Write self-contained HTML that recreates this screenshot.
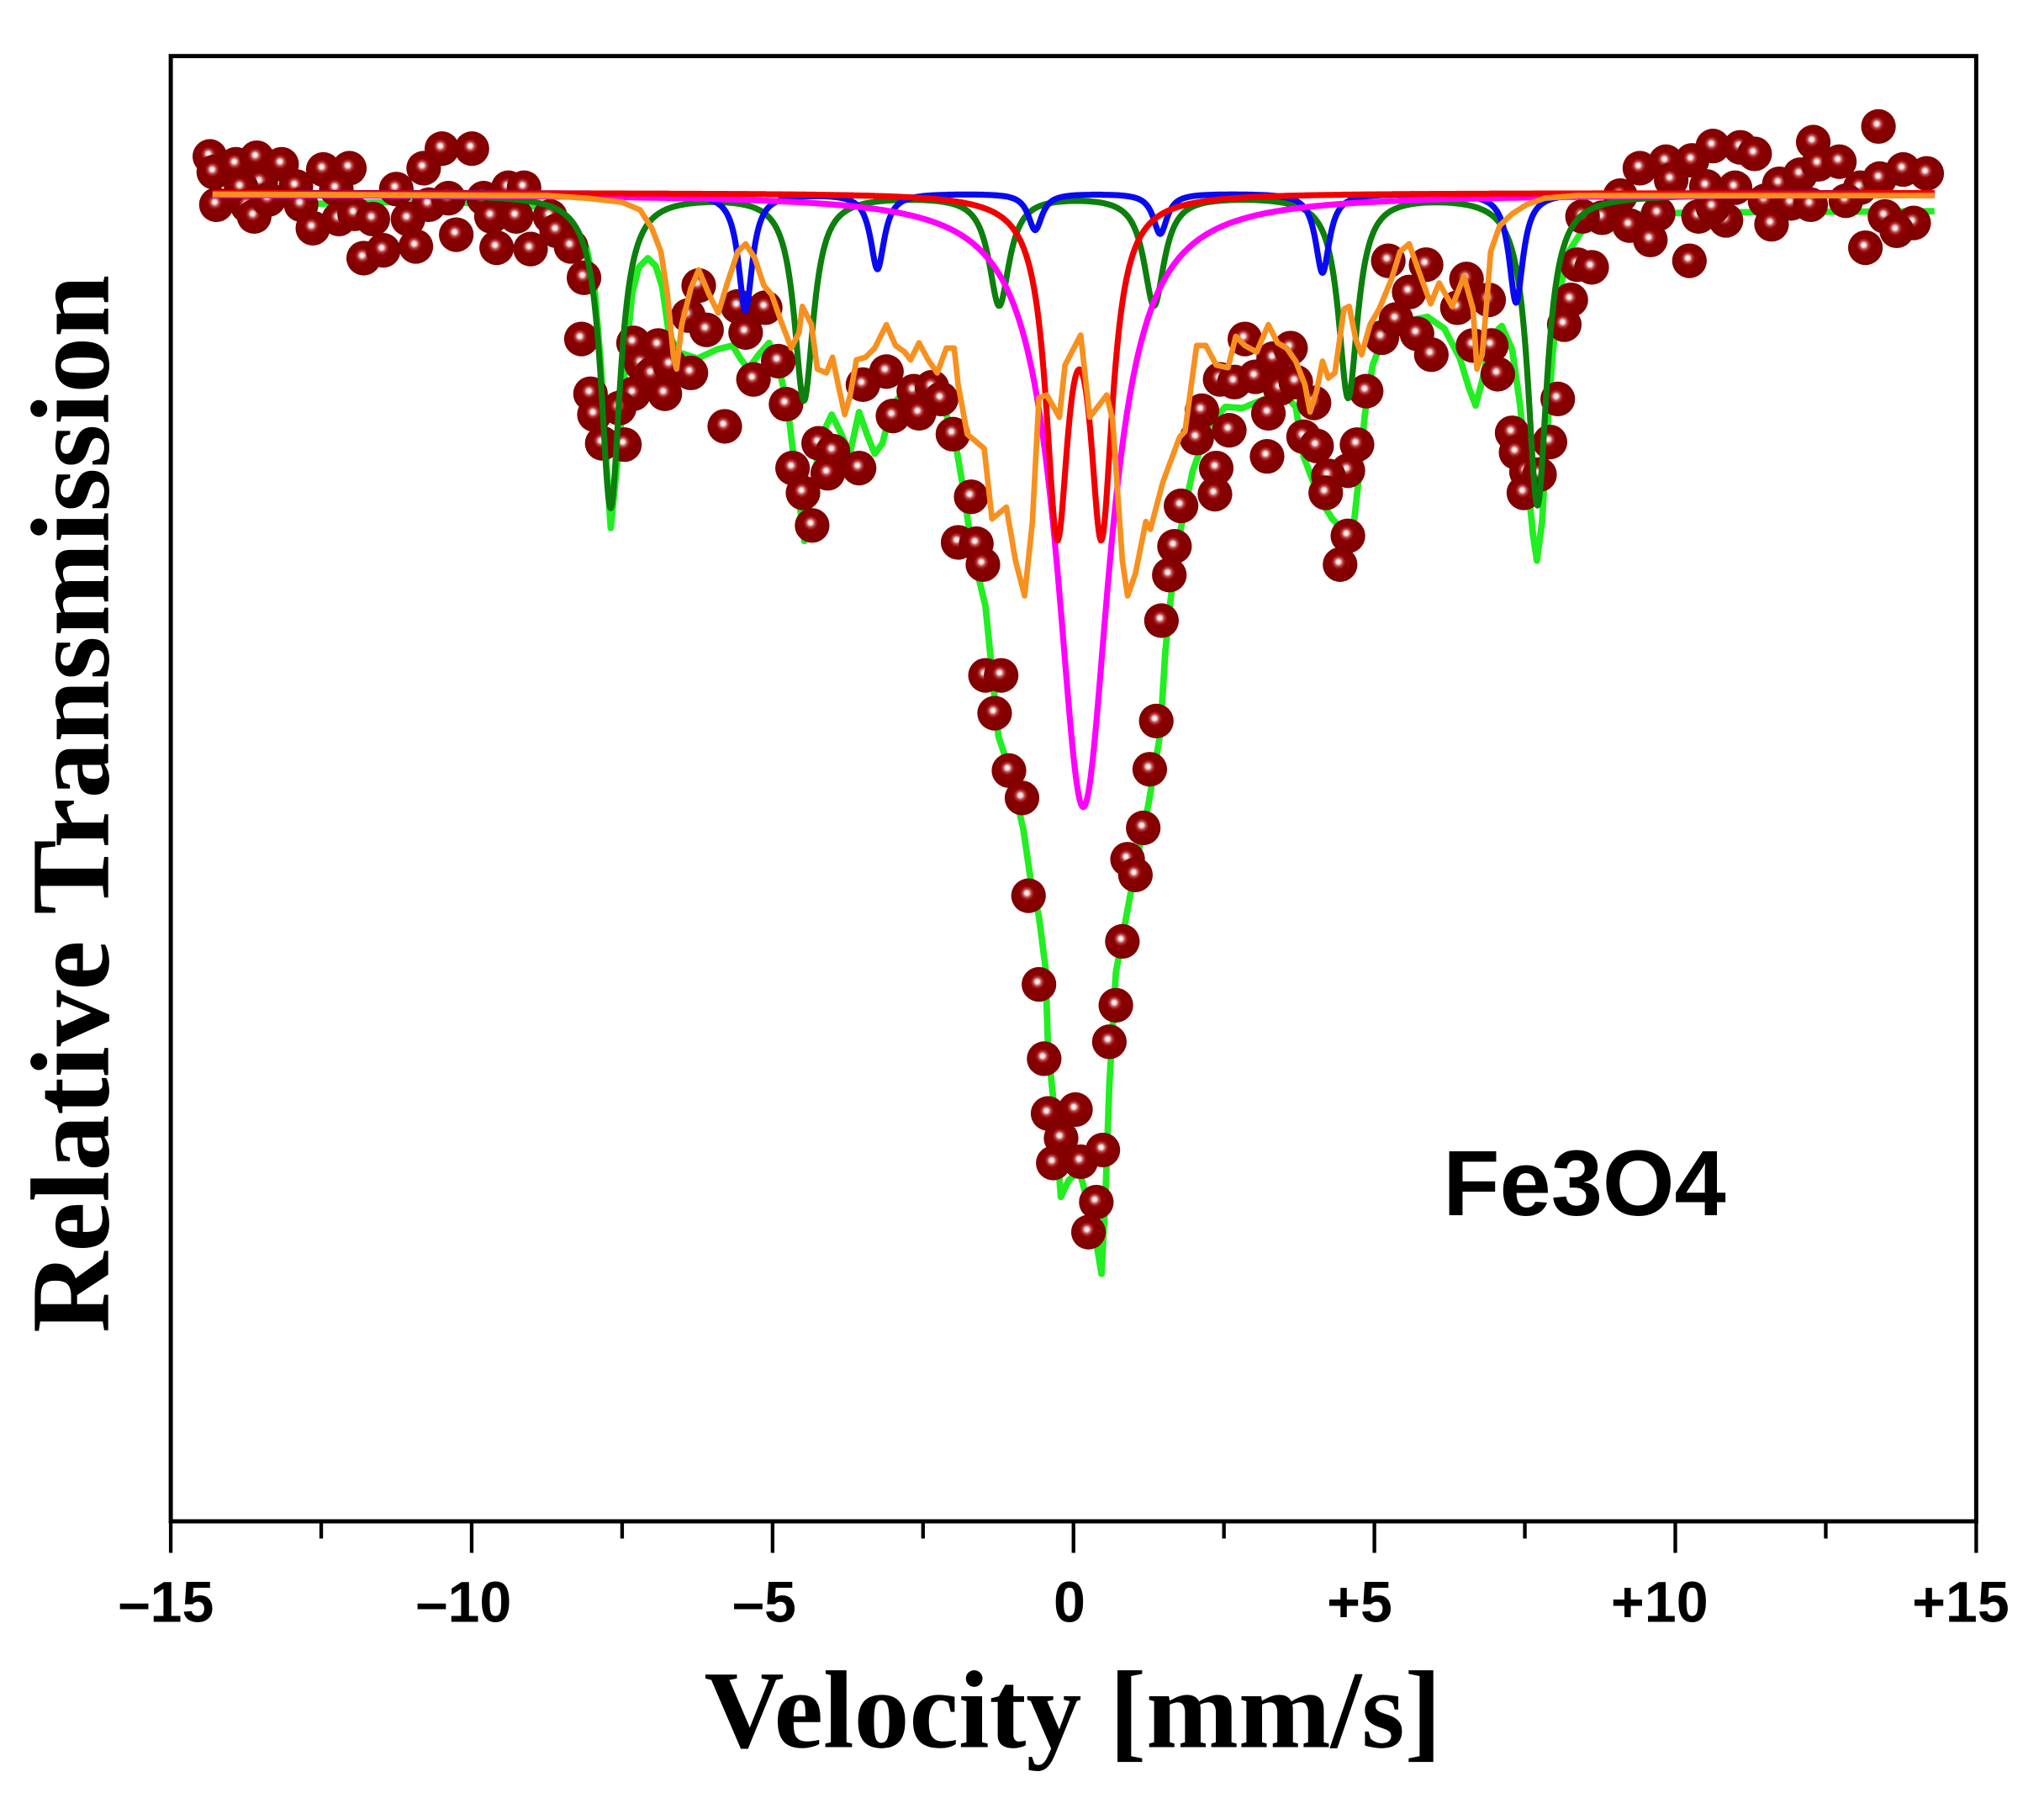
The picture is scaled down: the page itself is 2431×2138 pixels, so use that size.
<!DOCTYPE html>
<html><head><meta charset="utf-8"><style>
html,body{margin:0;padding:0;background:#fff;}
svg{display:block;}
</style></head><body>
<svg id="s" width="2431" height="2138" viewBox="0 0 1568 1379" preserveAspectRatio="none" xmlns="http://www.w3.org/2000/svg">
<defs>
<radialGradient id="sg" cx="0.47" cy="0.44" r="0.55" fx="0.45" fy="0.42">
<stop offset="0" stop-color="#ffffff"/>
<stop offset="0.1" stop-color="#f6e4e4"/>
<stop offset="0.24" stop-color="#b83a3a"/>
<stop offset="0.38" stop-color="#8b0000"/>
<stop offset="1" stop-color="#7e0000"/>
</radialGradient>
</defs>
<rect x="0" y="0" width="1568" height="1379" fill="#fff"/>

<!-- light green total fit -->
<polyline fill="none" stroke="#22ee22" stroke-width="5" stroke-linejoin="round" points="163,158 300,155 400,156 425,162 440,172 450,190 456,220 461,280 465,350 468.5,405 472,370 476,330 480,275 485,225 490,205 497,198 503,204 508,220 513,255 520,270 535,275 550,268 562,265 568,275 574,283 582,272 590,263 597,280 604,310 610,360 617,415 623,375 630,335 638,318 645,332 652,348 659,316 665,333 671,348 677,340 684,312 695,298 712,300 725,315 733,340 739,375 744,410 750,440 756,465 760,505 766,565 775,592 785,636 791,677 797,703 802,742 804,804 808,843 813.8,918 820,905 828,898 838,935 845,977 848,918 851,832 856,746 864,703 872,660 881,617 890,563 894,499 898,460 903,420 910,385 915,361 919,350 928,325 940,312 953,313 970,306 985,302 994,312 1000,350 1006,366 1014,385 1022,398 1028,404 1034,410 1039,398 1043,360 1047,318 1053,280 1060,262 1072,250 1085,245 1095,243 1108,252 1120,275 1127,298 1132,311 1137,292 1144,258 1152,250 1160,268 1166,310 1171,360 1176,410 1179,430 1183,400 1187,330 1191,272 1197,220 1204,192 1213,178 1230,168 1260,164 1300,163 1484,162"/>

<!-- data spheres -->
<g fill="url(#sg)">
<circle cx="161" cy="120" r="13.3"/><circle cx="164" cy="132" r="13.3"/><circle cx="181" cy="126" r="13.3"/><circle cx="197" cy="121" r="13.3"/><circle cx="216" cy="126" r="13.3"/><circle cx="200" cy="140" r="13.3"/><circle cx="185" cy="144" r="13.3"/><circle cx="166" cy="157" r="13.3"/><circle cx="190" cy="158" r="13.3"/><circle cx="195" cy="166" r="13.3"/><circle cx="206" cy="153" r="13.3"/><circle cx="227" cy="143" r="13.3"/><circle cx="231" cy="157" r="13.3"/><circle cx="240" cy="175" r="13.3"/><circle cx="248" cy="130" r="13.3"/><circle cx="268" cy="129" r="13.3"/><circle cx="258" cy="145" r="13.3"/><circle cx="260" cy="168" r="13.3"/><circle cx="272" cy="164" r="13.3"/><circle cx="286" cy="168" r="13.3"/><circle cx="279" cy="198" r="13.3"/><circle cx="294" cy="192" r="13.3"/><circle cx="304" cy="145" r="13.3"/><circle cx="313" cy="168" r="13.3"/><circle cx="319" cy="189" r="13.3"/><circle cx="325" cy="129" r="13.3"/><circle cx="339" cy="114" r="13.3"/><circle cx="362" cy="114" r="13.3"/><circle cx="329" cy="157" r="13.3"/><circle cx="344" cy="152" r="13.3"/><circle cx="350" cy="180" r="13.3"/><circle cx="371" cy="152" r="13.3"/><circle cx="377" cy="166" r="13.3"/><circle cx="381" cy="190" r="13.3"/><circle cx="390" cy="144" r="13.3"/><circle cx="402" cy="144" r="13.3"/><circle cx="396" cy="166" r="13.3"/><circle cx="407" cy="191" r="13.3"/><circle cx="422" cy="166" r="13.3"/><circle cx="427" cy="177" r="13.3"/><circle cx="438" cy="189" r="13.3"/><circle cx="448" cy="213" r="13.3"/><circle cx="446" cy="260" r="13.3"/><circle cx="453" cy="302" r="13.3"/><circle cx="456" cy="318" r="13.3"/><circle cx="462" cy="340" r="13.3"/><circle cx="486" cy="263" r="13.3"/><circle cx="486" cy="302" r="13.3"/><circle cx="475" cy="313" r="13.3"/>
<circle cx="505" cy="265" r="13.3"/><circle cx="492" cy="279" r="13.3"/><circle cx="500" cy="287" r="13.3"/><circle cx="510" cy="302" r="13.3"/><circle cx="479" cy="341" r="13.3"/><circle cx="514" cy="280" r="13.3"/><circle cx="530" cy="286" r="13.3"/><circle cx="536" cy="219" r="13.3"/><circle cx="528" cy="242" r="13.3"/><circle cx="542" cy="253" r="13.3"/><circle cx="566" cy="235" r="13.3"/><circle cx="587" cy="236" r="13.3"/><circle cx="572" cy="255" r="13.3"/><circle cx="556" cy="327" r="13.3"/><circle cx="578" cy="291" r="13.3"/><circle cx="597" cy="277" r="13.3"/><circle cx="603" cy="310" r="13.3"/><circle cx="628" cy="340" r="13.3"/><circle cx="639" cy="346" r="13.3"/><circle cx="608" cy="359" r="13.3"/><circle cx="616" cy="378" r="13.3"/><circle cx="659" cy="359" r="13.3"/><circle cx="635" cy="363" r="13.3"/><circle cx="623" cy="403" r="13.3"/><circle cx="680" cy="285" r="13.3"/><circle cx="662" cy="295" r="13.3"/><circle cx="685" cy="319" r="13.3"/><circle cx="701" cy="300" r="13.3"/><circle cx="715" cy="297" r="13.3"/><circle cx="722" cy="306" r="13.3"/><circle cx="705" cy="317" r="13.3"/><circle cx="731" cy="333" r="13.3"/><circle cx="745" cy="381" r="13.3"/><circle cx="735" cy="416" r="13.3"/><circle cx="749" cy="417" r="13.3"/>
<circle cx="754" cy="433" r="13.3"/><circle cx="756" cy="518" r="13.3"/><circle cx="768" cy="518" r="13.3"/><circle cx="763" cy="547" r="13.3"/><circle cx="774" cy="591" r="13.3"/><circle cx="784" cy="612" r="13.3"/><circle cx="789" cy="687" r="13.3"/><circle cx="901" cy="419" r="13.3"/><circle cx="897" cy="441" r="13.3"/><circle cx="891" cy="476" r="13.3"/><circle cx="887" cy="553" r="13.3"/><circle cx="882" cy="590" r="13.3"/><circle cx="877" cy="635" r="13.3"/><circle cx="865" cy="659" r="13.3"/><circle cx="871" cy="671" r="13.3"/><circle cx="797" cy="755" r="13.3"/><circle cx="801" cy="812" r="13.3"/><circle cx="804" cy="854" r="13.3"/><circle cx="825" cy="851" r="13.3"/><circle cx="814" cy="873" r="13.3"/><circle cx="808" cy="892" r="13.3"/><circle cx="829" cy="891" r="13.3"/><circle cx="846" cy="882" r="13.3"/><circle cx="841" cy="922" r="13.3"/><circle cx="835" cy="945" r="13.3"/><circle cx="861" cy="722" r="13.3"/><circle cx="856" cy="771" r="13.3"/><circle cx="851" cy="799" r="13.3"/>
<circle cx="955" cy="260" r="13.3"/><circle cx="936" cy="291" r="13.3"/><circle cx="947" cy="293" r="13.3"/><circle cx="963" cy="289" r="13.3"/><circle cx="977" cy="275" r="13.3"/><circle cx="990" cy="267" r="13.3"/><circle cx="982" cy="298" r="13.3"/><circle cx="994" cy="293" r="13.3"/><circle cx="973" cy="317" r="13.3"/><circle cx="1008" cy="309" r="13.3"/><circle cx="922" cy="315" r="13.3"/><circle cx="918" cy="336" r="13.3"/><circle cx="943" cy="330" r="13.3"/><circle cx="933" cy="359" r="13.3"/><circle cx="932" cy="379" r="13.3"/><circle cx="906" cy="388" r="13.3"/><circle cx="972" cy="350" r="13.3"/><circle cx="1000" cy="335" r="13.3"/><circle cx="1010" cy="342" r="13.3"/><circle cx="1041" cy="341" r="13.3"/><circle cx="1034" cy="361" r="13.3"/><circle cx="1019" cy="365" r="13.3"/><circle cx="1017" cy="378" r="13.3"/><circle cx="1034" cy="411" r="13.3"/><circle cx="1028" cy="433" r="13.3"/><circle cx="1048" cy="300" r="13.3"/><circle cx="1060" cy="259" r="13.3"/><circle cx="1071" cy="245" r="13.3"/><circle cx="1065" cy="200" r="13.3"/><circle cx="1094" cy="203" r="13.3"/><circle cx="1081" cy="224" r="13.3"/><circle cx="1087" cy="256" r="13.3"/><circle cx="1098" cy="272" r="13.3"/><circle cx="1118" cy="236" r="13.3"/><circle cx="1125" cy="214" r="13.3"/><circle cx="1142" cy="230" r="13.3"/><circle cx="1130" cy="265" r="13.3"/><circle cx="1144" cy="265" r="13.3"/><circle cx="1149" cy="287" r="13.3"/><circle cx="1160" cy="332" r="13.3"/><circle cx="1163" cy="347" r="13.3"/><circle cx="1171" cy="362" r="13.3"/><circle cx="1169" cy="378" r="13.3"/>
<circle cx="1441" cy="97" r="13.3"/><circle cx="1391" cy="109" r="13.3"/><circle cx="1314" cy="112" r="13.3"/><circle cx="1335" cy="113" r="13.3"/><circle cx="1346" cy="118" r="13.3"/><circle cx="1258" cy="129" r="13.3"/><circle cx="1278" cy="124" r="13.3"/><circle cx="1298" cy="123" r="13.3"/><circle cx="1282" cy="138" r="13.3"/><circle cx="1309" cy="143" r="13.3"/><circle cx="1331" cy="144" r="13.3"/><circle cx="1365" cy="141" r="13.3"/><circle cx="1381" cy="134" r="13.3"/><circle cx="1395" cy="126" r="13.3"/><circle cx="1411" cy="124" r="13.3"/><circle cx="1427" cy="144" r="13.3"/><circle cx="1442" cy="137" r="13.3"/><circle cx="1460" cy="130" r="13.3"/><circle cx="1478" cy="133" r="13.3"/><circle cx="1446" cy="166" r="13.3"/><circle cx="1468" cy="171" r="13.3"/><circle cx="1431" cy="190" r="13.3"/><circle cx="1455" cy="177" r="13.3"/><circle cx="1243" cy="150" r="13.3"/><circle cx="1229" cy="167" r="13.3"/><circle cx="1214" cy="166" r="13.3"/><circle cx="1250" cy="173" r="13.3"/><circle cx="1272" cy="164" r="13.3"/><circle cx="1266" cy="184" r="13.3"/><circle cx="1303" cy="166" r="13.3"/><circle cx="1324" cy="169" r="13.3"/><circle cx="1314" cy="159" r="13.3"/><circle cx="1354" cy="154" r="13.3"/><circle cx="1359" cy="172" r="13.3"/><circle cx="1374" cy="156" r="13.3"/><circle cx="1389" cy="157" r="13.3"/><circle cx="1416" cy="154" r="13.3"/><circle cx="1296" cy="200" r="13.3"/><circle cx="1210" cy="203" r="13.3"/><circle cx="1221" cy="205" r="13.3"/><circle cx="1205" cy="230" r="13.3"/><circle cx="1200" cy="249" r="13.3"/><circle cx="1195" cy="306" r="13.3"/><circle cx="1189" cy="339" r="13.3"/><circle cx="1181" cy="364" r="13.3"/>
</g>

<!-- component curves (filled by script) -->
<path id="dg" fill="none" stroke="#0c7f0c" stroke-width="4.6" stroke-linejoin="round"/>
<path id="bl" fill="none" stroke="#0a0af0" stroke-width="4.6" stroke-linejoin="round"/>
<path id="mg" fill="none" stroke="#ff00ff" stroke-width="4.6" stroke-linejoin="round"/>
<path id="rd" fill="none" stroke="#f00000" stroke-width="4.6" stroke-linejoin="round"/>

<!-- orange component -->
<polyline fill="none" stroke="#f7901e" stroke-width="4.3" stroke-linejoin="round" points="163,149 420,150 450,152 477,155 491,161 500,175 507,193 512,226 516.5,272 519,283 523,249 530,221 536,207 544,226 551,240 558,217 566,193 572,187 579,198 586,219 592,226 599,246 607,267 613,255 615.5,235 622.5,249 627,283 634,286 638.6,274 643,295 648,318 652,304 657,276 664,274 671,267 680,249 687,265 694,270 698.5,276 705,263 712,276 719,286 726,267 732,267 735,295 742,333 755,344 761,398 772,389 779,430 786,457 792,400 797,305 803,303 812.7,320 817,280 829,257 836,320 849,303 853.5,322 861,430 865,457 871,440 879,400 882.5,406 892,370 905,335 909,331 918,265 925,265 933,280 942,282 948,258 955,265 964,270 973,249 980,263 987,267 994,277 1001,295 1005,316 1010,300 1014.5,277 1019,290 1024,286 1031,237 1035,235 1040,260 1044.5,272 1051,249 1058,237 1067.5,214 1074,193 1081,187 1088,207 1097.5,233 1104,217 1114,235 1123,212 1130,237 1133,283 1137,272 1141,226 1143.5,193 1150.5,173 1160,164 1171,157 1185,152 1210,150 1484,150"/>

<!-- frame -->
<rect x="131" y="43" width="1385" height="1123.8" fill="none" stroke="#000" stroke-width="3.2"/>
<g id="ticks" stroke="#000" stroke-width="2.8"></g>

<!-- tick labels -->
<g font-family="'Liberation Sans', Arial, sans-serif" font-weight="bold" font-size="44" text-anchor="middle" fill="#000">
<text x="127.4" y="1244">–15</text>
<text x="355.7" y="1244">–10</text>
<text x="586.3" y="1244">–5</text>
<text x="820.4" y="1244">0</text>
<text x="1043" y="1244">+5</text>
<text x="1273.1" y="1244">+10</text>
<text x="1504.1" y="1244">+15</text>
</g>

<text x="823" y="1340" text-anchor="middle" font-family="'Liberation Serif', 'Times New Roman', serif" font-weight="bold" font-size="85" fill="#000">Velocity [mm/s]</text>
<text transform="translate(83,616.5) rotate(-90)" text-anchor="middle" font-family="'Liberation Serif', 'Times New Roman', serif" font-weight="bold" font-size="86" fill="#000">Relative Transmission</text>
<text x="1107" y="932" font-family="'Liberation Sans', Arial, sans-serif" font-weight="bold" font-size="71" fill="#000">Fe3O4</text>
</svg>
<script>
(function(){
  function build(base, lines){
    var d = "";
    for (var x = 163; x <= 1484; x += 0.5) {
      var y = base;
      for (var i = 0; i < lines.length; i++) {
        var t = (x - lines[i][0]) / lines[i][2];
        y += lines[i][1] / (1 + t * t);
      }
      d += (x === 163 ? "M" : "L") + x.toFixed(1) + "," + y.toFixed(1);
    }
    return d;
  }
  document.getElementById("dg").setAttribute("d", build(149, [[468.4,240,9],[616.7,157,9],[766.5,84,9.5],[885.3,84,9.5],[1034.2,155,9],[1179.4,238,9]]));
  document.getElementById("bl").setAttribute("d", build(148, [[571.8,90,6.5],[673.1,58,6.5],[794.1,28,6.5],[890,31,6.5],[1014.5,61,6.5],[1163,84,6.5]]));
  document.getElementById("rd").setAttribute("d", build(148, [[811,245,10.5],[845,245,10.5]]));
  document.getElementById("mg").setAttribute("d", build(149, [[831,470,25]]));
  var g = document.getElementById("ticks");
  var ns = "http://www.w3.org/2000/svg";
  for (var k = 0; k <= 12; k++) {
    var v = -15 + 2.5 * k;
    var x = 823.5 + 46.167 * v;
    var ln = document.createElementNS(ns, "line");
    ln.setAttribute("x1", x); ln.setAttribute("x2", x);
    ln.setAttribute("y1", 1166.8);
    ln.setAttribute("y2", (k % 2 === 0) ? 1191 : 1180);
    g.appendChild(ln);
  }
})();
</script>
</body></html>
